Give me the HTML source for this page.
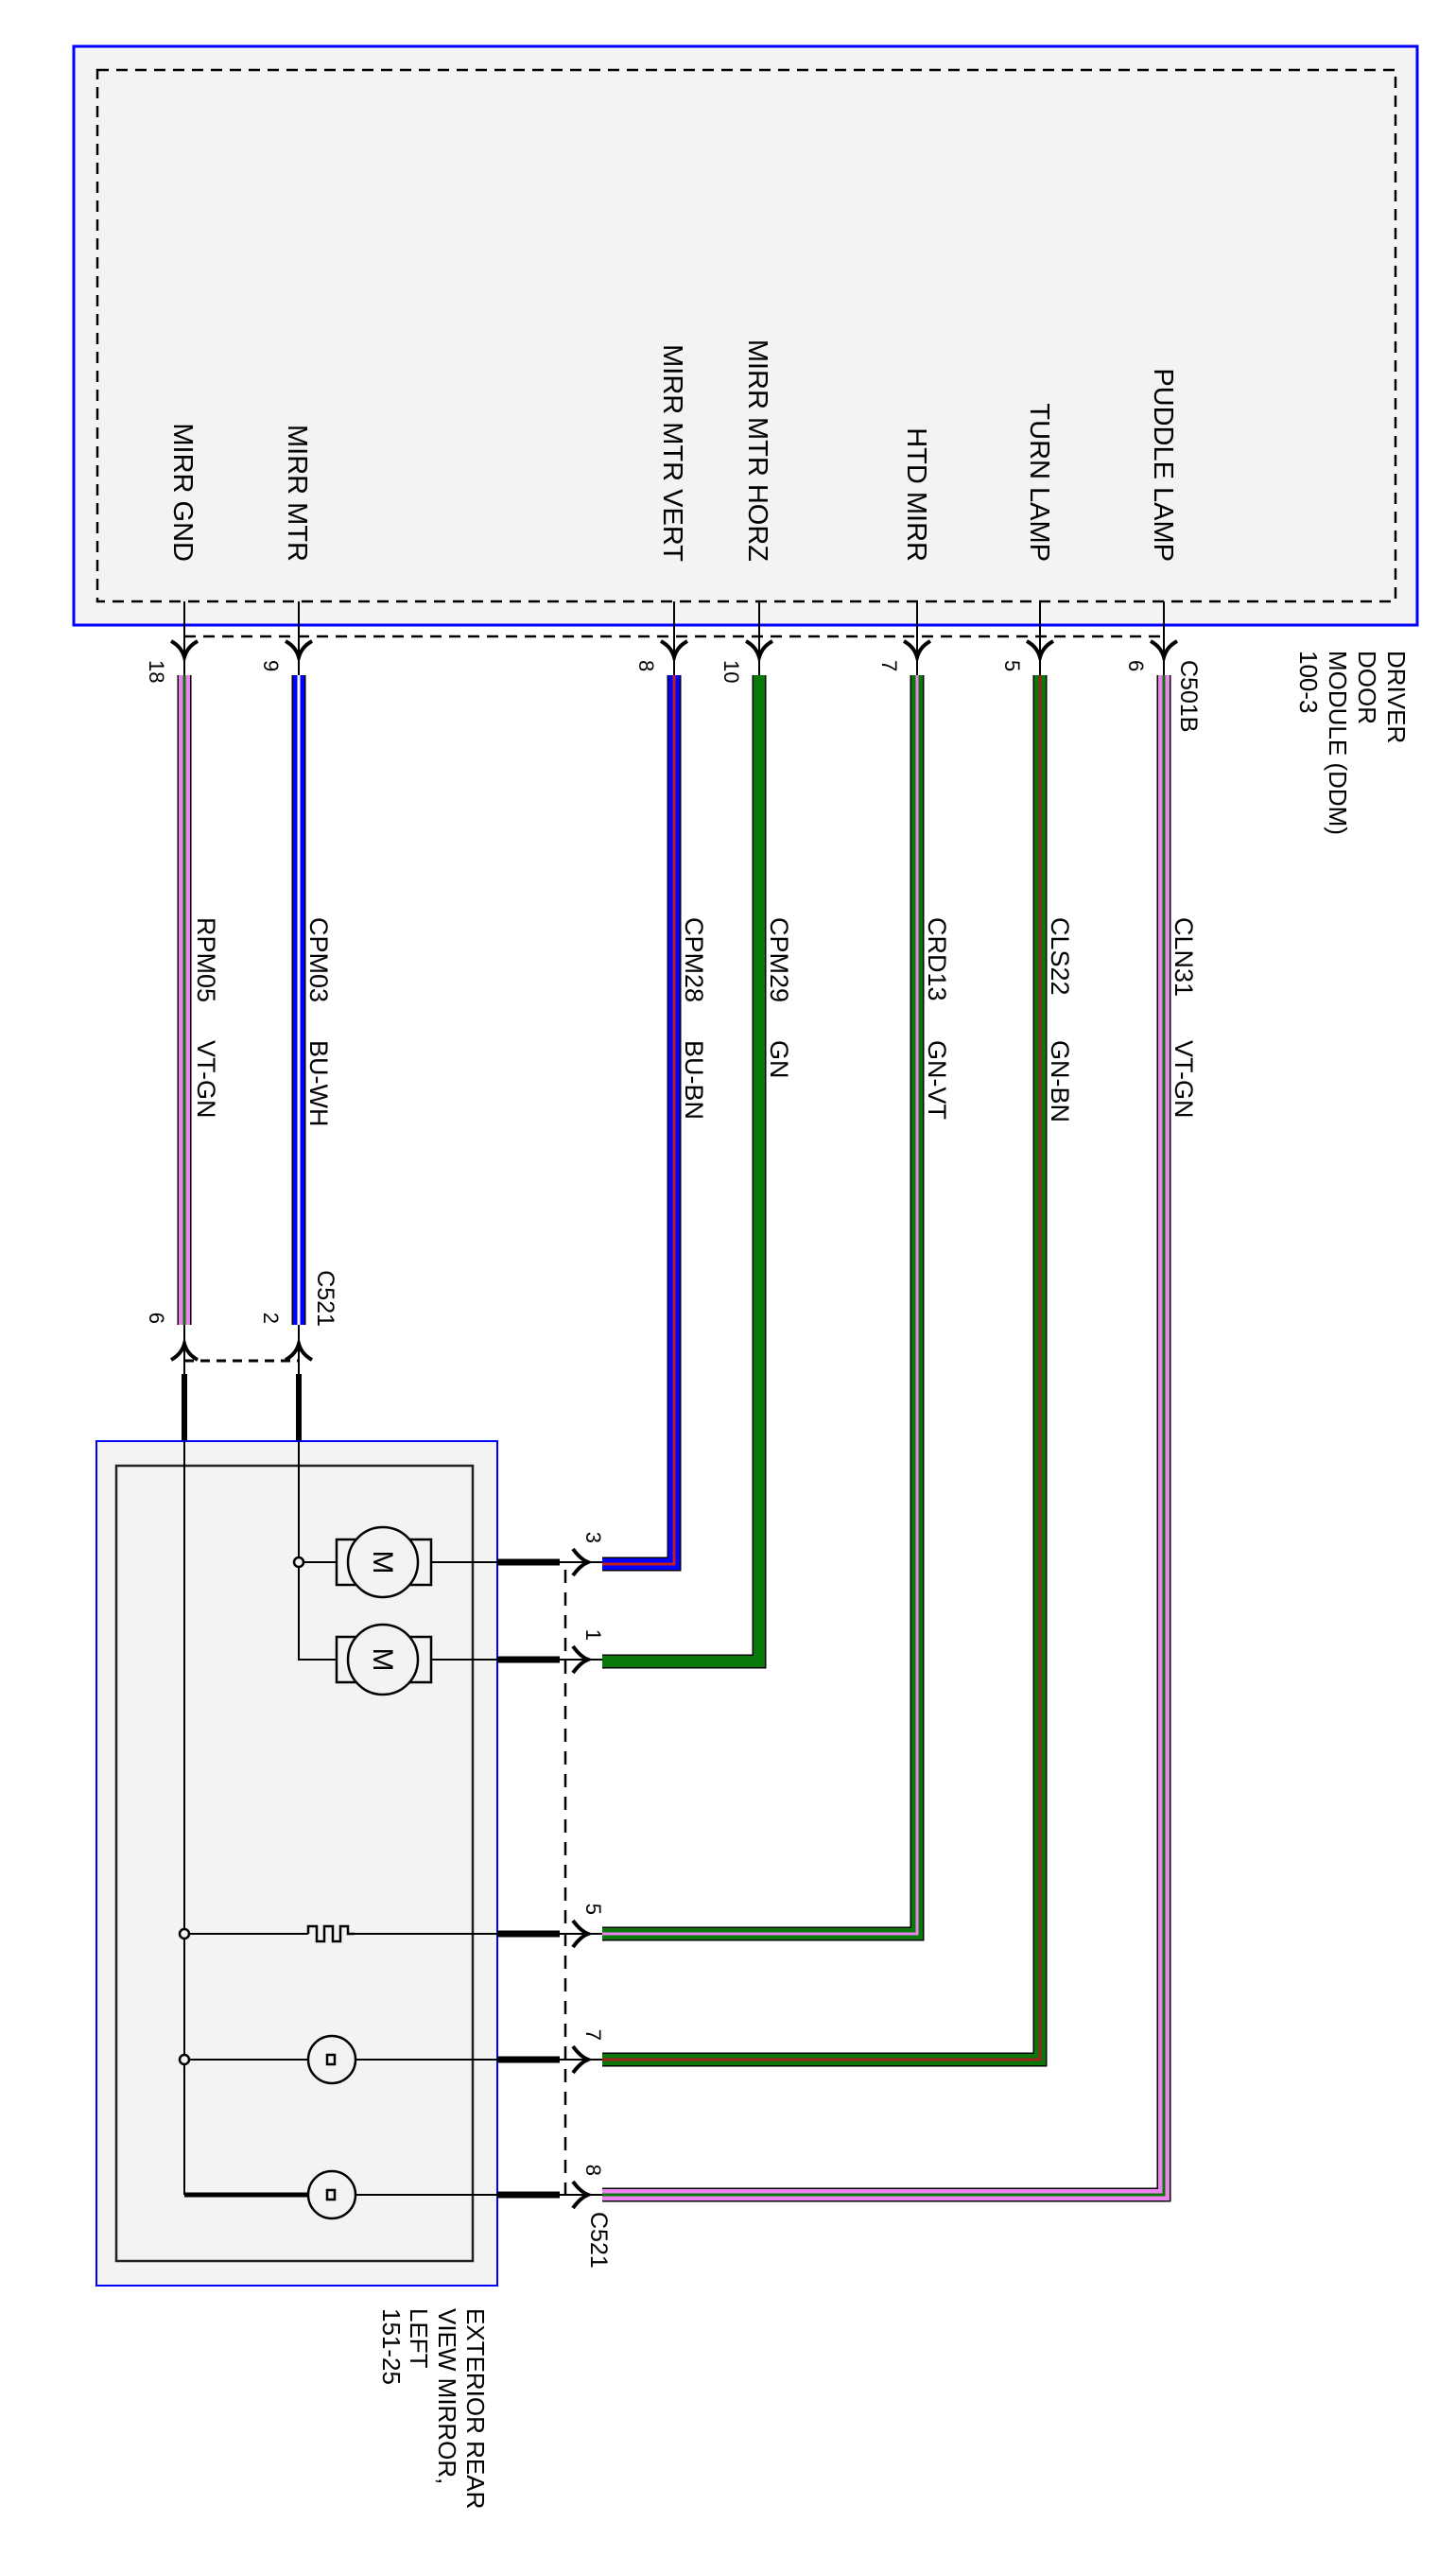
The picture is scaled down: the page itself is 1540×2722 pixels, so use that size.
<!DOCTYPE html>
<html><head><meta charset="utf-8"><style>
html,body{margin:0;padding:0;background:#fff;}
svg{display:block;}
text{font-family:"Liberation Sans",Arial,sans-serif;fill:#000;}
</style></head><body>
<svg width="1540" height="2722" viewBox="0 0 1540 2722" xmlns="http://www.w3.org/2000/svg">
<!-- top module -->
<rect x="78" y="49" width="1421" height="612" fill="#f3f3f3" stroke="#0000ff" stroke-width="3"/>
<rect x="103" y="74" width="1373" height="562" fill="none" stroke="#000" stroke-width="2.5" stroke-dasharray="12,8"/>
<line x1="195" y1="673" x2="1232" y2="673" stroke="#000" stroke-width="2.5" stroke-dasharray="12,8"/>
<g font-size="29">
<text transform="translate(184,594) rotate(90)" text-anchor="end">MIRR GND</text>
<text transform="translate(305,594) rotate(90)" text-anchor="end">MIRR MTR</text>
<text transform="translate(702,594) rotate(90)" text-anchor="end">MIRR MTR VERT</text>
<text transform="translate(792,594) rotate(90)" text-anchor="end">MIRR MTR HORZ</text>
<text transform="translate(960,594) rotate(90)" text-anchor="end">HTD MIRR</text>
<text transform="translate(1090,594) rotate(90)" text-anchor="end">TURN LAMP</text>
<text transform="translate(1221,594) rotate(90)" text-anchor="end">PUDDLE LAMP</text>
</g>
<!-- pin lines and arrows top -->
<g stroke="#000" fill="none">
<g stroke-width="2">
<line x1="195" y1="636" x2="195" y2="714"/><line x1="316" y1="636" x2="316" y2="714"/>
<line x1="713" y1="636" x2="713" y2="714"/><line x1="803" y1="636" x2="803" y2="714"/>
<line x1="970" y1="636" x2="970" y2="714"/><line x1="1100" y1="636" x2="1100" y2="714"/>
<line x1="1231" y1="636" x2="1231" y2="714"/>
</g>
<g stroke-width="4">
<path d="M181 678 Q192 684 195 695 Q198 684 209 678"/>
<path d="M302 678 Q313 684 316 695 Q319 684 330 678"/>
<path d="M699 678 Q710 684 713 695 Q716 684 727 678"/>
<path d="M789 678 Q800 684 803 695 Q806 684 817 678"/>
<path d="M956 678 Q967 684 970 695 Q973 684 984 678"/>
<path d="M1086 678 Q1097 684 1100 695 Q1103 684 1114 678"/>
<path d="M1217 678 Q1228 684 1231 695 Q1234 684 1245 678"/>
</g>
</g>
<g font-size="22">
<text transform="translate(158,698) rotate(90)">18</text>
<text transform="translate(279,698) rotate(90)">9</text>
<text transform="translate(676,698) rotate(90)">8</text>
<text transform="translate(766,698) rotate(90)">10</text>
<text transform="translate(933,698) rotate(90)">7</text>
<text transform="translate(1063,698) rotate(90)">5</text>
<text transform="translate(1194,698) rotate(90)">6</text>
<text transform="translate(1249,698) rotate(90)" font-size="25">C501B</text>
</g>
<g font-size="26">
<text transform="translate(1468,688) rotate(90)">DRIVER</text>
<text transform="translate(1437,688) rotate(90)">DOOR</text>
<text transform="translate(1406,688) rotate(90)">MODULE (DDM)</text>
<text transform="translate(1375,688) rotate(90)">100-3</text>
</g>
<!-- wires -->
<g fill="none" stroke-linejoin="miter" stroke-linecap="butt">
<g stroke="#000" stroke-width="15">
<path d="M195 714 V1401"/><path d="M316 714 V1401"/>
<path d="M713 714 V1654 H637"/><path d="M803 714 V1757 H637"/>
<path d="M970 714 V2045 H637"/><path d="M1100 714 V2178 H637"/>
<path d="M1231 714 V2321 H637"/>
</g>
<g stroke-width="12">
<path d="M195 714 V1401" stroke="#ee82ee"/><path d="M316 714 V1401" stroke="#0000ff"/>
<path d="M713 714 V1654 H637" stroke="#0000ff"/><path d="M803 714 V1757 H637" stroke="#087808"/>
<path d="M970 714 V2045 H637" stroke="#087808"/><path d="M1100 714 V2178 H637" stroke="#087808"/>
<path d="M1231 714 V2321 H637" stroke="#ee82ee"/>
</g>
<g stroke-width="3">
<path d="M195 714 V1401" stroke="#087808"/><path d="M316 714 V1401" stroke="#fff"/>
<path d="M713 714 V1654 H637" stroke="#c02020"/>
<path d="M970 714 V2045 H637" stroke="#ee82ee"/><path d="M1100 714 V2178 H637" stroke="#a02020"/>
<path d="M1231 714 V2321 H637" stroke="#087808"/>
</g>
</g>
<!-- wire labels -->
<g font-size="27">
<text transform="translate(209,970) rotate(90)">RPM05</text><text transform="translate(209,1100) rotate(90)">VT-GN</text>
<text transform="translate(328,970) rotate(90)">CPM03</text><text transform="translate(328,1100) rotate(90)">BU-WH</text>
<text transform="translate(725,970) rotate(90)">CPM28</text><text transform="translate(725,1100) rotate(90)">BU-BN</text>
<text transform="translate(815,970) rotate(90)">CPM29</text><text transform="translate(815,1100) rotate(90)">GN</text>
<text transform="translate(982,970) rotate(90)">CRD13</text><text transform="translate(982,1100) rotate(90)">GN-VT</text>
<text transform="translate(1112,970) rotate(90)">CLS22</text><text transform="translate(1112,1100) rotate(90)">GN-BN</text>
<text transform="translate(1243,970) rotate(90)">CLN31</text><text transform="translate(1243,1100) rotate(90)">VT-GN</text>
</g>
<!-- C521 top connector -->
<g stroke="#000" fill="none">
<line x1="195" y1="1401" x2="195" y2="1453" stroke-width="2"/>
<line x1="316" y1="1401" x2="316" y2="1453" stroke-width="2"/>
<path d="M181 1438 Q192 1432 195 1421 Q198 1432 209 1438" stroke-width="4"/>
<path d="M302 1438 Q313 1432 316 1421 Q319 1432 330 1438" stroke-width="4"/>
<line x1="195" y1="1439" x2="316" y2="1439" stroke-width="3" stroke-dasharray="10,7"/>
<line x1="195" y1="1453" x2="195" y2="1524" stroke-width="6"/>
<line x1="316" y1="1453" x2="316" y2="1524" stroke-width="6"/>
</g>
<g font-size="22">
<text transform="translate(158,1400) rotate(90)" text-anchor="end">6</text>
<text transform="translate(279,1400) rotate(90)" text-anchor="end">2</text>
<text transform="translate(336,1403) rotate(90)" text-anchor="end" font-size="25">C521</text>
</g>
<!-- bottom module -->
<rect x="102" y="1524" width="424" height="893" fill="#f3f3f3" stroke="#0000ff" stroke-width="2"/>
<rect x="123" y="1550" width="377" height="841" fill="none" stroke="#222" stroke-width="2.5"/>
<g stroke="#000" stroke-width="2" fill="none">
<path d="M195 1524 V2321"/>
<path d="M316 1524 V1755 H356"/>
<path d="M316 1652 H356"/>
<path d="M456 1652 H526"/><path d="M456 1755 H526"/>
<path d="M195 2045 H326"/><path d="M375 2045 H526"/>
<path d="M195 2178 H325"/><path d="M377 2178 H526"/>
<path d="M377 2321 H526"/>
</g>
<line x1="195" y1="2321" x2="325" y2="2321" stroke="#000" stroke-width="5"/>
<g stroke="#000" stroke-width="2.5" fill="#f3f3f3">
<circle cx="316" cy="1652" r="5"/>
<circle cx="195" cy="2045" r="5"/>
<circle cx="195" cy="2178" r="5"/>
<rect x="356" y="1628" width="100" height="48"/>
<rect x="356" y="1731" width="100" height="48"/>
<circle cx="405" cy="1652" r="37"/>
<circle cx="405" cy="1755" r="37"/>
<circle cx="351" cy="2178" r="25"/>
<circle cx="351" cy="2321" r="25"/>
<path d="M326 2045 V2037 H335 V2053 H343 V2037 H352 V2053 H360 V2037 H368 V2045 H375" fill="none"/>
<path d="M352 2178 m-6 -5 v10 h8 v-10 z" fill="none"/>
<path d="M352 2321 m-6 -5 v10 h8 v-10 z" fill="none"/>
</g>
<g font-size="30">
<text transform="translate(395,1652) rotate(90)" text-anchor="middle">M</text>
<text transform="translate(395,1755) rotate(90)" text-anchor="middle">M</text>
</g>
<!-- right side connectors -->
<g stroke="#000" fill="none">
<g stroke-width="7">
<path d="M526 1652 H592"/><path d="M526 1755 H592"/><path d="M526 2045 H592"/><path d="M526 2178 H592"/><path d="M526 2321 H592"/>
</g>
<g stroke-width="2">
<path d="M592 1652 H637"/><path d="M592 1755 H637"/><path d="M592 2045 H637"/><path d="M592 2178 H637"/><path d="M592 2321 H637"/>
</g>
<g stroke-width="4">
<path d="M606 1638 Q614 1649 622 1652 Q614 1655 606 1666"/>
<path d="M606 1741 Q614 1752 622 1755 Q614 1758 606 1769"/>
<path d="M606 2031 Q614 2042 622 2045 Q614 2048 606 2059"/>
<path d="M606 2164 Q614 2175 622 2178 Q614 2181 606 2192"/>
<path d="M606 2307 Q614 2318 622 2321 Q614 2324 606 2335"/>
</g>
<line x1="598" y1="1660" x2="598" y2="2330" stroke-width="2.5" stroke-dasharray="14,10"/>
</g>
<g font-size="22">
<text transform="translate(620,1632) rotate(90)" text-anchor="end">3</text>
<text transform="translate(620,1735) rotate(90)" text-anchor="end">1</text>
<text transform="translate(620,2025) rotate(90)" text-anchor="end">5</text>
<text transform="translate(620,2158) rotate(90)" text-anchor="end">7</text>
<text transform="translate(620,2301) rotate(90)" text-anchor="end">8</text>
<text transform="translate(625,2339) rotate(90)" font-size="25">C521</text>
</g>
<g font-size="26">
<text transform="translate(494,2441) rotate(90)">EXTERIOR REAR</text>
<text transform="translate(464,2441) rotate(90)">VIEW MIRROR,</text>
<text transform="translate(434,2441) rotate(90)">LEFT</text>
<text transform="translate(405,2441) rotate(90)">151-25</text>
</g>
</svg>
</body></html>
